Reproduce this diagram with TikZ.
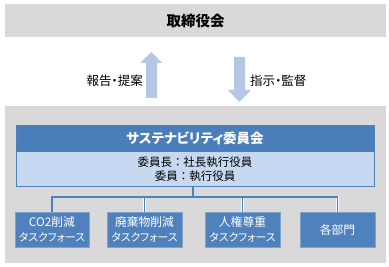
\documentclass[tikz,border=0pt]{standalone}
\usepackage{fontspec}
\setmainfont{Noto Sans CJK JP}[RawFeature={+palt}]
\newfontfamily\fullw{Noto Sans CJK JP}
\usetikzlibrary{positioning}
\definecolor{bandgrey}{HTML}{D9D9D9}
\definecolor{arrowblue}{HTML}{B4C7E7}
\definecolor{hdrblue}{HTML}{4A7EBB}
\definecolor{bodyblue}{HTML}{C6D9F0}
\definecolor{boxblue}{HTML}{4F81BD}
\definecolor{boxedge}{HTML}{7FA3CF}
\newcommand{\tfline}{{\fontsize{10.8}{15}\selectfont タスクフォース}}
\tikzset{
  band/.style={fill=bandgrey, draw=none},
  blockarrow/.style={fill=arrowblue, draw=none},
  hdrbox/.style={fill=hdrblue, draw=boxblue, line width=0.6pt, text=white, font=\bfseries\fontsize{13.5}{15}\selectfont, inner sep=0pt},
  bodybox/.style={fill=bodyblue, draw=boxblue, line width=0.6pt, font=\fullw\fontsize{11.5}{13.5}\selectfont, inner sep=0pt, align=center},
  tfbox/.style={fill=boxblue, draw=boxedge, line width=0.6pt, text=white, font=\fontsize{11.8}{15}\selectfont, inner sep=0pt, align=center, minimum height=35pt},
  halo/.style={draw=white!85!bodyblue, line width=2.6pt},
  conn/.style={draw=boxblue, line width=1.4pt},
  lbl/.style={font=\fontsize{12.5}{14}\selectfont, inner sep=0pt}
}
\begin{document}
\begin{tikzpicture}[x=1pt,y=-1pt]
\useasboundingbox (0,0) rectangle (389,267);
\fill[white] (0,0) rectangle (389,267);
% top band
\fill[band] (5,4) rectangle (386,37);
\node[font=\bfseries\fontsize{14.5}{16}\selectfont] (board) at (195.5,21) {取締役会};
% block arrows
\fill[blockarrow] (146,98) -- (146,63) -- (140,63) -- (151.5,52) -- (162,63) -- (157,63) -- (157,98) -- cycle;
\fill[blockarrow] (234,57) -- (234,90) -- (228,90) -- (239.5,102) -- (251,90) -- (245,90) -- (245,57) -- cycle;
\node[lbl, anchor=east] (up) at (143,81) {報告・提案};
\node[lbl, anchor=west] (down) at (250,81) {指示・監督};
% lower area
\fill[band] (5,106) rectangle (386,263);
\node[hdrbox, minimum width=358pt, minimum height=26pt] (hdr) at (195,138) {サステナビリティ委員会};
\node[bodybox, minimum width=358pt, minimum height=35pt, below=0pt of hdr] (body) {委員長：社長執行役員\\委員：執行役員};
% task force boxes
\node[tfbox, minimum width=74pt] (b1) at (52,229.5) {CO2削減\\\tfline};
\node[tfbox, minimum width=75pt] (b2) at (144.5,229.5) {廃棄物削減\\\tfline};
\node[tfbox, minimum width=75pt] (b3) at (242.5,229.5) {人権尊重\\\tfline};
\node[tfbox, minimum width=75pt] (b4) at (337.5,229.5) {各部門};
\coordinate (j) at (193,197);
% connectors
\begin{scope}[halo]
\draw (193,186) -- (j);
\draw (b1.north) |- (j) -| (b4.north);
\draw (b2.north) -- (b2.north |- j);
\draw (b3.north) -- (b3.north |- j);
\end{scope}
\begin{scope}[conn]
\draw (193,186.5) -- (j);
\draw (b1.north) |- (j) -| (b4.north);
\draw (b2.north) -- (b2.north |- j);
\draw (b3.north) -- (b3.north |- j);
\end{scope}
\end{tikzpicture}
\end{document}
